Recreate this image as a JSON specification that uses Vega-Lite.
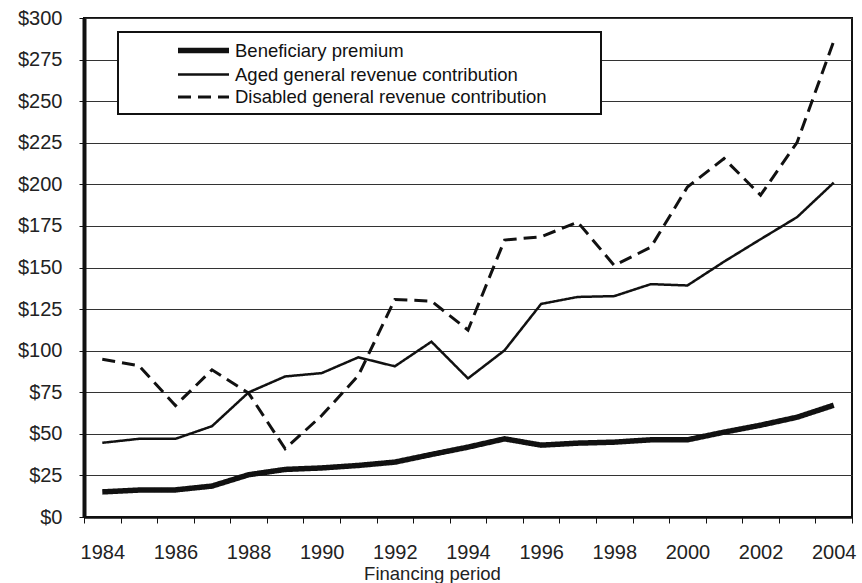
{
  "$schema": "https://vega.github.io/schema/vega-lite/v6.json",
  "width": 768,
  "height": 499,
  "autosize": {"type": "none"},
  "padding": {"left": 84, "top": 18, "right": 10, "bottom": 66},
  "background": "white",
  "config": {
    "font": "Liberation Sans",
    "view": {"stroke": "#111", "strokeWidth": 2},
    "axis": {"labelColor": "#222", "titleColor": "#222", "labelFont": "Liberation Sans", "titleFont": "Liberation Sans", "titleFontWeight": "normal"},
    "legend": {
      "fillColor": "white",
      "strokeColor": "#111",
      "strokeWidth": 2,
      "padding": 7,
      "symbolType": "M-3,0H3",
      "symbolSize": 289,
      "symbolStrokeColor": "#111",
      "symbolFillColor": "transparent",
      "labelFontSize": 18.5,
      "labelFont": "Liberation Sans",
      "labelColor": "#111",
      "labelLimit": 600,
      "rowPadding": 2.5
    }
  },
  "data": {
    "values": [
      {"year": 1984, "series": "Beneficiary premium", "value": 15.1},
      {"year": 1985, "series": "Beneficiary premium", "value": 16.2},
      {"year": 1986, "series": "Beneficiary premium", "value": 16.3},
      {"year": 1987, "series": "Beneficiary premium", "value": 18.6},
      {"year": 1988, "series": "Beneficiary premium", "value": 25.4},
      {"year": 1989, "series": "Beneficiary premium", "value": 28.6},
      {"year": 1990, "series": "Beneficiary premium", "value": 29.5},
      {"year": 1991, "series": "Beneficiary premium", "value": 31.0},
      {"year": 1992, "series": "Beneficiary premium", "value": 33.0},
      {"year": 1993, "series": "Beneficiary premium", "value": 37.6},
      {"year": 1994, "series": "Beneficiary premium", "value": 42.0},
      {"year": 1995, "series": "Beneficiary premium", "value": 47.0},
      {"year": 1996, "series": "Beneficiary premium", "value": 43.2},
      {"year": 1997, "series": "Beneficiary premium", "value": 44.4},
      {"year": 1998, "series": "Beneficiary premium", "value": 45.0},
      {"year": 1999, "series": "Beneficiary premium", "value": 46.4},
      {"year": 2000, "series": "Beneficiary premium", "value": 46.4},
      {"year": 2001, "series": "Beneficiary premium", "value": 51.0},
      {"year": 2002, "series": "Beneficiary premium", "value": 55.2},
      {"year": 2003, "series": "Beneficiary premium", "value": 60.0},
      {"year": 2004, "series": "Beneficiary premium", "value": 67.2},
      {"year": 1984, "series": "Aged general revenue contribution", "value": 44.6},
      {"year": 1985, "series": "Aged general revenue contribution", "value": 47.0},
      {"year": 1986, "series": "Aged general revenue contribution", "value": 47.0},
      {"year": 1987, "series": "Aged general revenue contribution", "value": 54.6},
      {"year": 1988, "series": "Aged general revenue contribution", "value": 74.9},
      {"year": 1989, "series": "Aged general revenue contribution", "value": 84.5},
      {"year": 1990, "series": "Aged general revenue contribution", "value": 86.5},
      {"year": 1991, "series": "Aged general revenue contribution", "value": 96.0},
      {"year": 1992, "series": "Aged general revenue contribution", "value": 90.6},
      {"year": 1993, "series": "Aged general revenue contribution", "value": 105.4},
      {"year": 1994, "series": "Aged general revenue contribution", "value": 83.3},
      {"year": 1995, "series": "Aged general revenue contribution", "value": 100.2},
      {"year": 1996, "series": "Aged general revenue contribution", "value": 128.1},
      {"year": 1997, "series": "Aged general revenue contribution", "value": 132.3},
      {"year": 1998, "series": "Aged general revenue contribution", "value": 132.8},
      {"year": 1999, "series": "Aged general revenue contribution", "value": 140.0},
      {"year": 2000, "series": "Aged general revenue contribution", "value": 139.2},
      {"year": 2001, "series": "Aged general revenue contribution", "value": 153.5},
      {"year": 2002, "series": "Aged general revenue contribution", "value": 167.0},
      {"year": 2003, "series": "Aged general revenue contribution", "value": 180.3},
      {"year": 2004, "series": "Aged general revenue contribution", "value": 201.0},
      {"year": 1984, "series": "Disabled general revenue contribution", "value": 94.8},
      {"year": 1985, "series": "Disabled general revenue contribution", "value": 91.0},
      {"year": 1986, "series": "Disabled general revenue contribution", "value": 67.0},
      {"year": 1987, "series": "Disabled general revenue contribution", "value": 88.5},
      {"year": 1988, "series": "Disabled general revenue contribution", "value": 74.5},
      {"year": 1989, "series": "Disabled general revenue contribution", "value": 41.0},
      {"year": 1990, "series": "Disabled general revenue contribution", "value": 61.0},
      {"year": 1991, "series": "Disabled general revenue contribution", "value": 85.0},
      {"year": 1992, "series": "Disabled general revenue contribution", "value": 130.8},
      {"year": 1993, "series": "Disabled general revenue contribution", "value": 129.8},
      {"year": 1994, "series": "Disabled general revenue contribution", "value": 112.4},
      {"year": 1995, "series": "Disabled general revenue contribution", "value": 166.5},
      {"year": 1996, "series": "Disabled general revenue contribution", "value": 168.5},
      {"year": 1997, "series": "Disabled general revenue contribution", "value": 177.3},
      {"year": 1998, "series": "Disabled general revenue contribution", "value": 151.2},
      {"year": 1999, "series": "Disabled general revenue contribution", "value": 162.2},
      {"year": 2000, "series": "Disabled general revenue contribution", "value": 198.4},
      {"year": 2001, "series": "Disabled general revenue contribution", "value": 215.5},
      {"year": 2002, "series": "Disabled general revenue contribution", "value": 193.5},
      {"year": 2003, "series": "Disabled general revenue contribution", "value": 225.3},
      {"year": 2004, "series": "Disabled general revenue contribution", "value": 286.0}
    ]
  },
  "mark": {"type": "line", "color": "#111"},
  "encoding": {
    "x": {
      "field": "year",
      "type": "ordinal",
      "bandPosition": 0.5,
      "scale": {"type": "band", "paddingInner": 0, "paddingOuter": 0},
      "axis": {
        "title": "Financing period",
        "titleFontSize": 18.5,
        "titleX": 348,
        "titleY": 62,
        "titleAlign": "center",
        "titleBaseline": "alphabetic",
        "labelAngle": 0,
        "labelFontSize": 20,
        "labelPadding": 19,
        "labelExpr": "datum.value % 2 == 0 ? datum.label : ''",
        "tickBand": "extent",
        "tickSize": 6,
        "tickColor": "#111",
        "tickWidth": 1,
        "domainColor": "#111",
        "domainWidth": 2.5,
        "grid": false
      }
    },
    "y": {
      "field": "value",
      "type": "quantitative",
      "scale": {"domain": [0, 300], "nice": false},
      "axis": {
        "title": null,
        "values": [0, 25, 50, 75, 100, 125, 150, 175, 200, 225, 250, 275, 300],
        "labelExpr": "'$' + datum.value",
        "labelFontSize": 20,
        "labelPadding": 17,
        "tickSize": 5,
        "tickColor": "#111",
        "domainColor": "#111",
        "domainWidth": 4,
        "grid": true,
        "gridColor": "#333",
        "gridWidth": 1
      }
    },
    "strokeWidth": {
      "field": "series",
      "type": "nominal",
      "scale": {
        "type": "ordinal",
        "domain": ["Beneficiary premium", "Aged general revenue contribution", "Disabled general revenue contribution"],
        "range": [5.5, 2.5, 3]
      },
      "legend": {
        "title": null,
        "orient": "none",
        "legendX": 34,
        "legendY": 14,
        "symbolOffset": 67,
        "labelOffset": 20,
        "labelExpr": "datum.label + ' ⠀⠀⠀'"
      }
    },
    "strokeDash": {
      "field": "series",
      "type": "nominal",
      "scale": {
        "domain": ["Beneficiary premium", "Aged general revenue contribution", "Disabled general revenue contribution"],
        "range": [[1, 0], [1, 0], [13, 7]]
      },
      "legend": {
        "title": null,
        "orient": "none",
        "legendX": 34,
        "legendY": 14,
        "symbolOffset": 67,
        "labelOffset": 20,
        "labelExpr": "datum.label + ' ⠀⠀⠀'"
      }
    }
  }
}
